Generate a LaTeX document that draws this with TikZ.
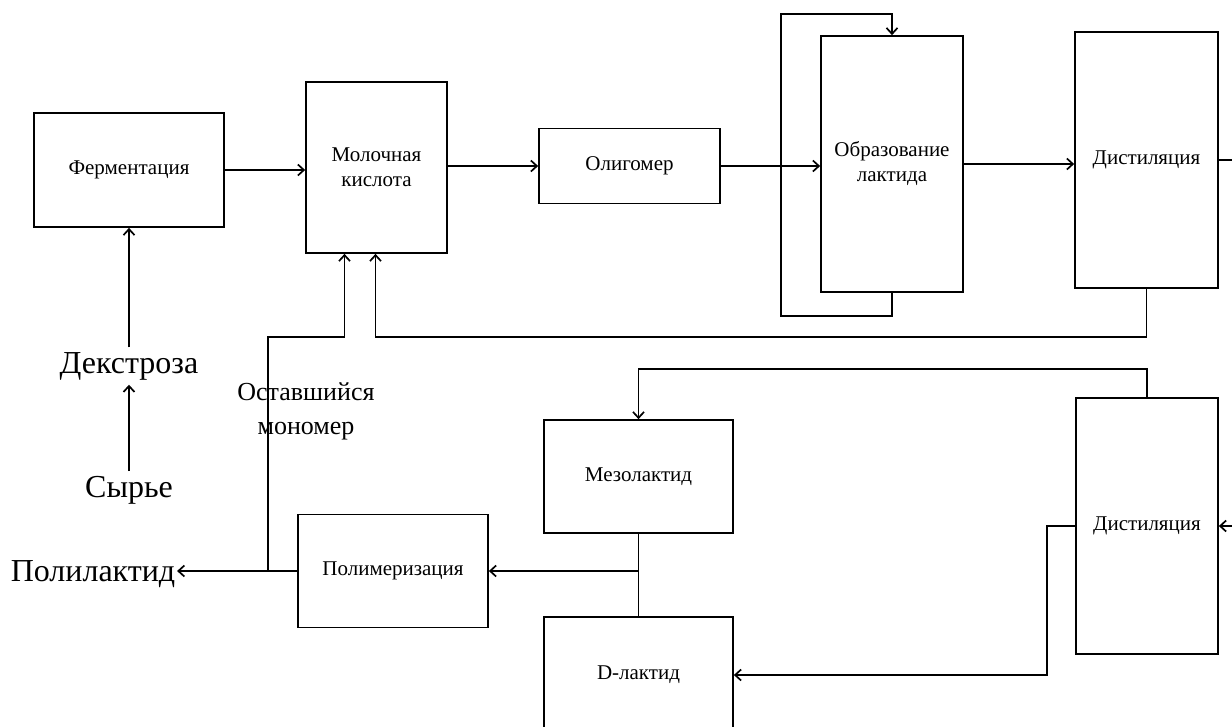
\documentclass[tikz,border=0pt]{standalone}
\usepackage{fontspec}
\setmainfont{Liberation Serif}
\usetikzlibrary{arrows.meta}

\begin{document}
\begin{tikzpicture}[->,>={Straight Barb[length=6pt,width=11pt]},x=1pt,y=-1pt,line width=1.7pt,
  block/.style={draw,rectangle,align=center,inner sep=0pt,font=\fontsize{21}{25}\selectfont},
  big/.style={inner sep=4pt,font=\fontsize{32}{36}\selectfont}]
\useasboundingbox (0,0) rectangle (1232,726);
\node[block,minimum width=190,minimum height=114] (ferm) at (129,170) {Ферментация};
\node[block,minimum width=141,minimum height=171] (milk) at (376.5,167.5) {Молочная\\кислота};
\node[block,minimum width=181,minimum height=75] (olig) at (629.5,166) {Олигомер};
\node[block,minimum width=142,minimum height=256] (lact) at (892,164) {Образование\\лактида};
\node[block,minimum width=143,minimum height=256] (dist) at (1146.5,160) {Дистиляция};
\node[block,minimum width=142,minimum height=256] (dist2) at (1147,526) {Дистиляция};
\node[block,minimum width=189,minimum height=113] (meso) at (638.5,476.5) {Мезолактид};
\node[block,minimum width=189,minimum height=116] (dlac) at (638.5,675) {D-лактид};
\node[block,minimum width=190,minimum height=113] (poly) at (393,571) {Полимеризация};
\node[big] (dex) at (129,366) {Декстроза};
\node[big] (raw) at (129,490) {Сырье};
\node[big,inner sep=1pt] (plla) at (93,574) {Полилактид};
\node[align=center,font=\fontsize{26}{34}\selectfont] (mono) at (306,411) {Оставшийся\\мономер};
\coordinate (r1) at (1232,160);
\coordinate (r2) at (1232,526);
\coordinate (j) at (268,571);
\coordinate (k) at (638.5,571);
\path (raw) edge (dex);
\path (dex) edge (ferm);
\draw (ferm.east) -- (ferm.east -| milk.west);
\draw (milk.east |- olig.west) -- (olig.west);
\draw (olig.east) -- (olig.east -| lact.west);
\draw (lact.east) -- (lact.east -| dist.west);
\draw[-] (dist.east) -- (r1);
\draw (lact.south) -- ++(0,23) -| ++(-111,-302) -| (lact.north);
\draw (dist.south) -- ++(0,48) -| ([xshift=-1pt]milk.south);
\draw (j) -- ++(0,-234) -| ([xshift=-32pt]milk.south);
\draw (poly.west) -- (j) -- (j -| plla.east);
\draw (r2) -- (dist2.east);
\draw (dist2.north) -- ++(0,-28) -| (meso.north);
\draw (dist2.west) -- ++(-28,0) |- (dlac.east);
\draw[-] (meso) -- (dlac);
\draw (k) -- (poly.east);
\end{tikzpicture}
\end{document}
